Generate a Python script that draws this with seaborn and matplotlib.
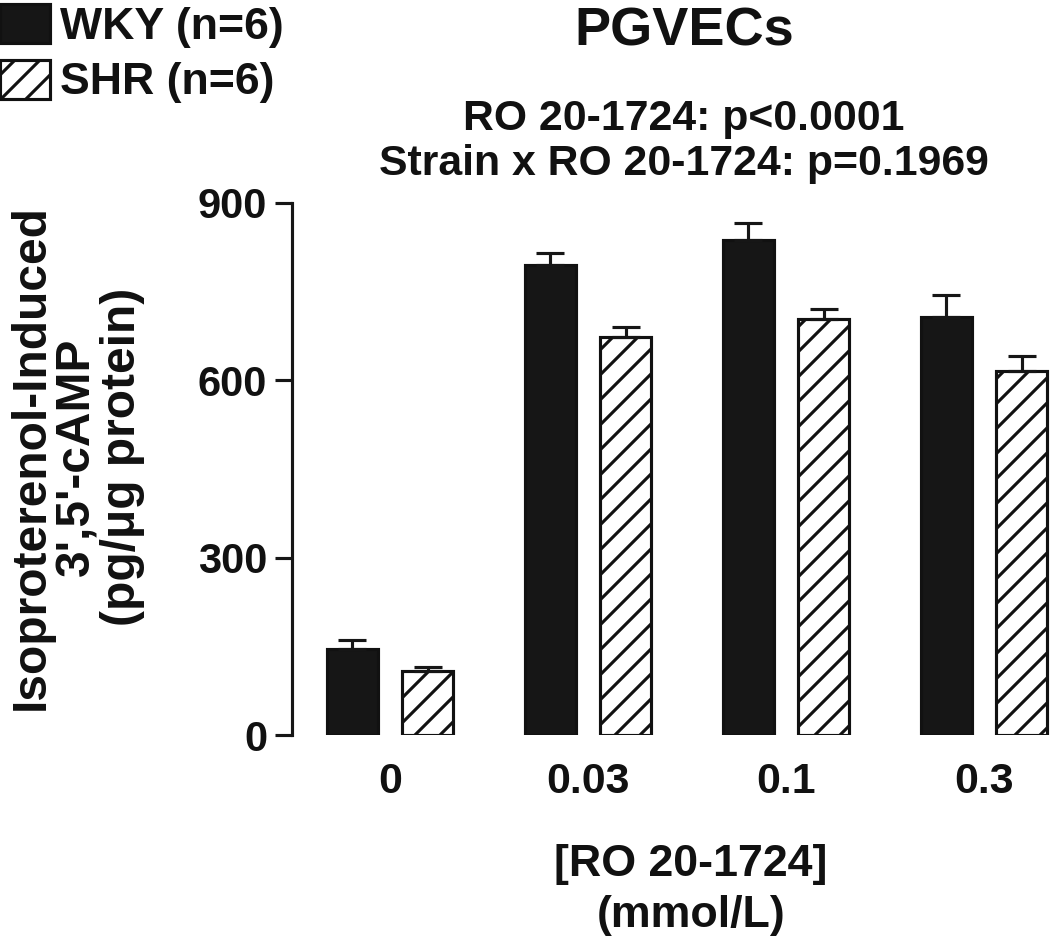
import pandas as pd
import matplotlib
matplotlib.use('Agg')
import matplotlib.pyplot as plt
import seaborn as sns
import numpy as np

# Data (mean and SEM)
doses = ['0', '0.03', '0.1', '0.3']
strains = ['WKY (n=6)', 'SHR (n=6)']
wky_mean = [145, 795, 838, 707]
wky_sem = [16, 20, 29, 37]
shr_mean = [108, 673, 703, 615]
shr_sem = [7, 17, 18, 27]

df = pd.DataFrame({
    'dose': doses * 2,
    'strain': [strains[0]] * 4 + [strains[1]] * 4,
    'camp': wky_mean + shr_mean,
})

sns.set_style('white')
plt.rcParams['font.family'] = ['Liberation Sans', 'DejaVu Sans']
plt.rcParams['font.weight'] = 'bold'
plt.rcParams['hatch.linewidth'] = 1.5
plt.rcParams['hatch.color'] = 'black'
for k in ['text.color', 'axes.labelcolor', 'xtick.color', 'ytick.color']:
    plt.rcParams[k] = '#111111'

fig = plt.figure(figsize=(7.0, 943 / 150), dpi=150)
ax = fig.add_axes([292 / 1050, 208 / 943, 758 / 1050, 532 / 943])

sns.barplot(data=df, x='dose', y='camp', hue='strain', order=doses,
            hue_order=strains, palette=['#161616', 'white'],
            edgecolor='#111111', linewidth=1.5, errorbar=None,
            width=0.76, gap=0.32, legend=False, ax=ax)

# hatch the SHR bars
for bar in ax.containers[1]:
    bar.set_hatch('//')

# SEM error bars (upper only)
for cont, sem in zip(ax.containers, [wky_sem, shr_sem]):
    xs = [b.get_x() + b.get_width() / 2 for b in cont]
    ys = [b.get_height() for b in cont]
    ax.errorbar(xs, ys, yerr=[np.zeros(len(sem)), sem], fmt='none',
                ecolor='#161616', elinewidth=1.5, capsize=6.7, capthick=1.5,
                zorder=1)

ax.set_ylim(0, 900)
ax.set_xlim(-0.495, 3.333)
ax.set_yticks([0, 300, 600, 900])
ax.set_xlabel('')
ax.set_ylabel('')
sns.despine(ax=ax, bottom=True)
ax.spines['left'].set_linewidth(1.5)
ax.spines['left'].set_color('#161616')
ax.tick_params(axis='y', direction='out', length=8, width=1.5, pad=4,
               labelsize=20, left=True, color='#161616')
ax.tick_params(axis='x', length=0, pad=13, labelsize=20.5)
for lab in ax.get_xticklabels() + ax.get_yticklabels():
    lab.set_fontweight('bold')

# titles
fig.text(684 / 1050, 1 - 45 / 943, 'PGVECs', ha='center', va='baseline',
         fontsize=26, fontweight='bold')
fig.text(684 / 1050, 1 - 130 / 943, 'RO 20-1724: p<0.0001', ha='center',
         va='baseline', fontsize=20.5, fontweight='bold')
fig.text(684 / 1050, 1 - 175 / 943, 'Strain x RO 20-1724: p=0.1969',
         ha='center', va='baseline', fontsize=20.5, fontweight='bold')

# axis labels
fig.text(77 / 1050, 1 - 457 / 943,
         "Isoproterenol-Induced\n3',5'-cAMP\n(pg/μg protein)",
         rotation=90, ha='center', va='center', multialignment='center',
         fontsize=23, fontweight='bold', linespacing=1.02)
fig.text(691 / 1050, 1 - 876 / 943, '[RO 20-1724]', ha='center',
         va='baseline', fontsize=21.5, fontweight='bold')
fig.text(691 / 1050, 1 - 927 / 943, '(mmol/L)', ha='center',
         va='baseline', fontsize=21.5, fontweight='bold')

# legend
handles = [ax.containers[0][0], ax.containers[1][0]]
fig.legend(handles, strains, loc='upper left', bbox_to_anchor=(0, 1 - 4 / 943),
           frameon=False, prop={'weight': 'bold', 'size': 21.4},
           handlelength=1.12, handleheight=0.98, handletextpad=0.22,
           labelspacing=0.26, borderpad=0, borderaxespad=0)

fig.savefig('out.png', dpi=150, facecolor='white')
